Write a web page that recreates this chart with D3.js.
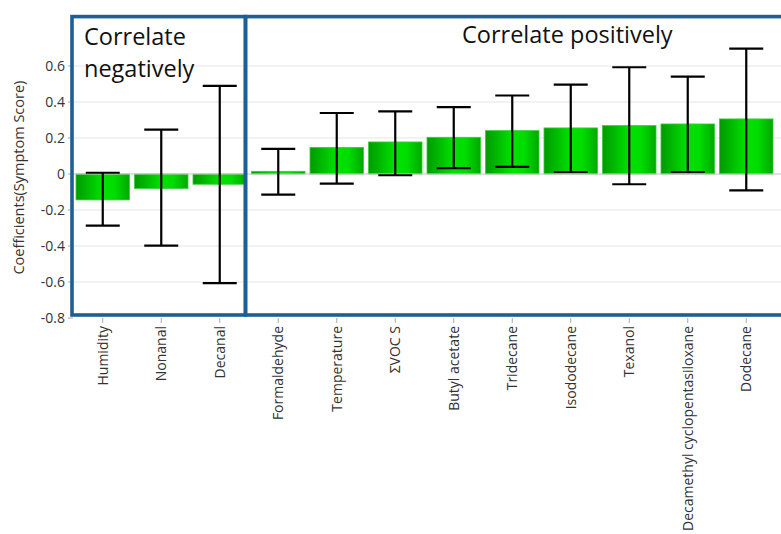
<!DOCTYPE html>
<html>
<head>
<meta charset="utf-8">
<script src="https://cdn.jsdelivr.net/npm/d3@7"></script>
<style>
  body { margin: 0; background: #fff; }
  svg { display: block; }
</style>
</head>
<body>
<svg id="chart" width="781" height="534"></svg>
<script>
// Regression coefficients against symptom score, with confidence intervals
const categories = ["Humidity", "Nonanal", "Decanal", "Formaldehyde", "Temperature", "ΣVOC S",
  "Butyl acetate", "Tridecane", "Isododecane", "Texanol", "Decamethyl cyclopentasiloxane", "Dodecane"];
const coefficients = [-0.144, -0.080, -0.057, 0.015, 0.148, 0.178, 0.204, 0.241, 0.256, 0.269, 0.278, 0.306];
const ciLow  = [-0.287, -0.398, -0.606, -0.115, -0.054, -0.007, 0.033, 0.040, 0.011, -0.057, 0.011, -0.091];
const ciHigh = [0.007, 0.246, 0.490, 0.140, 0.339, 0.348, 0.372, 0.436, 0.496, 0.593, 0.541, 0.696];
const yTicks = [-0.8, -0.6, -0.4, -0.2, 0, 0.2, 0.4, 0.6];
const yTickLabels = ["-0.8", "-0.6", "-0.4", "-0.2", "0", "0.2", "0.4", "0.6"];
const negativeGroup = ["Humidity", "Nonanal", "Decanal"];
const groupTitles = ["Correlate", "negatively", "Correlate positively"];
const yTitle = "Coefficients(Symptom Score)";

const svg = d3.select("#chart");
const font = "'Open Sans', 'Noto Sans', sans-serif";

const x = d3.scaleBand()
  .domain(categories)
  .range([73.5, 775.5])
  .paddingInner(0.085)
  .paddingOuter(0.0425);

const y = d3.scaleLinear()
  .domain([-0.8, 0.88])
  .range([318, 15.6]);

const plotLeft = 73, plotRight = 781;

// gradient fill for the bars (dark edges, bright centre)
const defs = svg.append("defs");
const grad = defs.append("linearGradient").attr("id", "barGrad")
  .attr("x1", 0).attr("x2", 1).attr("y1", 0).attr("y2", 0);
grad.append("stop").attr("offset", "0%").attr("stop-color", "#009a00");
grad.append("stop").attr("offset", "50%").attr("stop-color", "#00e200");
grad.append("stop").attr("offset", "72%").attr("stop-color", "#00dc00");
grad.append("stop").attr("offset", "100%").attr("stop-color", "#00a800");

// gridlines
svg.append("g").selectAll("line")
  .data(yTicks.filter(d => d !== 0 && d !== -0.8))
  .join("line")
  .attr("x1", plotLeft).attr("x2", plotRight)
  .attr("y1", d => y(d)).attr("y2", d => y(d))
  .attr("stroke", "#e6e6e6").attr("stroke-width", 1.2);

// y axis ticks and labels
const yAxis = svg.append("g");
yAxis.selectAll("line")
  .data(yTicks)
  .join("line")
  .attr("x1", 68).attr("x2", 73)
  .attr("y1", d => y(d)).attr("y2", d => y(d))
  .attr("stroke", "#aaa");
yAxis.selectAll("text")
  .data(yTicks)
  .join("text")
  .attr("x", 65)
  .attr("y", d => y(d))
  .attr("dy", "0.36em")
  .attr("text-anchor", "end")
  .attr("font-family", font)
  .attr("font-size", 14)
  .attr("fill", "#333")
  .text((d, i) => yTickLabels[i]);

svg.append("text")
  .attr("transform", `translate(24,${y(-0.02)}) rotate(-90)`)
  .attr("text-anchor", "middle")
  .attr("font-family", font)
  .attr("font-size", 14.5)
  .attr("fill", "#333")
  .text(yTitle);

// bars
svg.append("g").selectAll("rect")
  .data(categories)
  .join("rect")
  .attr("x", d => x(d))
  .attr("width", x.bandwidth())
  .attr("y", (d, i) => y(Math.max(0, coefficients[i])))
  .attr("height", (d, i) => Math.abs(y(coefficients[i]) - y(0)))
  .attr("fill", "url(#barGrad)")
  .attr("stroke", "#3ccc3c")
  .attr("stroke-width", 0.8);

// zero line
svg.append("line")
  .attr("x1", plotLeft).attr("x2", plotRight)
  .attr("y1", y(0)).attr("y2", y(0))
  .attr("stroke", "#c4c4c4").attr("stroke-width", 1.2);

// error bars
const capHalf = 17;
const eb = svg.append("g").attr("stroke", "#000").attr("stroke-width", 2.2);
categories.forEach((c, i) => {
  const cx = x(c) + x.bandwidth() / 2;
  eb.append("line").attr("x1", cx).attr("x2", cx).attr("y1", y(ciHigh[i])).attr("y2", y(ciLow[i]));
  eb.append("line").attr("x1", cx - capHalf).attr("x2", cx + capHalf).attr("y1", y(ciHigh[i])).attr("y2", y(ciHigh[i]));
  eb.append("line").attr("x1", cx - capHalf).attr("x2", cx + capHalf).attr("y1", y(ciLow[i])).attr("y2", y(ciLow[i]));
});

// x axis tick marks and rotated labels
const xAxis = svg.append("g");
xAxis.selectAll("line")
  .data(categories)
  .join("line")
  .attr("x1", d => x(d) + x.bandwidth() / 2).attr("x2", d => x(d) + x.bandwidth() / 2)
  .attr("y1", 318).attr("y2", 323)
  .attr("stroke", "#aaa");
xAxis.selectAll("text")
  .data(categories)
  .join("text")
  .attr("transform", d => `translate(${x(d) + x.bandwidth() / 2 + 5},326) rotate(-90)`)
  .attr("text-anchor", "end")
  .attr("font-family", font)
  .attr("font-size", 14)
  .attr("fill", "#333")
  .text(d => d);

// group boxes
const boxColor = "#1d5f94";
const boxTop = y(0.88) + 1;
const boxBottom = y(-0.8) - 3;
const boxLeft = 72;
const divider = x(categories[negativeGroup.length]) - 6;
const boxes = svg.append("g").attr("fill", "none").attr("stroke", boxColor).attr("stroke-width", 3.6);
boxes.append("rect").attr("x", boxLeft).attr("y", boxTop)
  .attr("width", divider - boxLeft).attr("height", boxBottom - boxTop);
boxes.append("rect").attr("x", divider).attr("y", boxTop)
  .attr("width", 800 - divider).attr("height", boxBottom - boxTop);

// group titles
const titles = svg.append("g").attr("font-family", font).attr("font-size", 23.5).attr("fill", "#111");
titles.append("text").attr("x", boxLeft + 12).attr("y", 45).text(groupTitles[0]);
titles.append("text").attr("x", boxLeft + 12).attr("y", 77).text(groupTitles[1]);
titles.append("text").attr("x", 462).attr("y", 43).text(groupTitles[2]);
</script>
</body>
</html>
